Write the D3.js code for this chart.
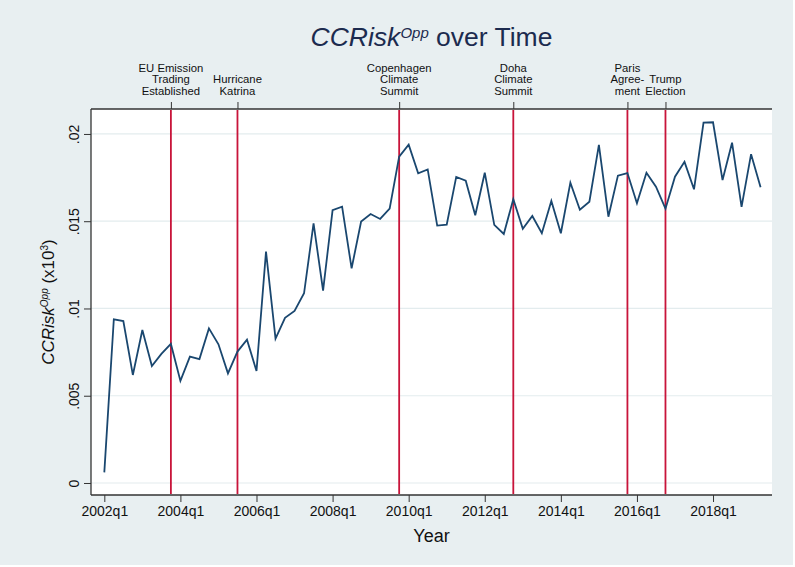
<!DOCTYPE html>
<html>
<head>
<meta charset="utf-8">
<script src="https://cdn.jsdelivr.net/npm/d3@7"></script>
<style>
  body { margin: 0; background: #fff; }
  text { font-family: "Liberation Sans", Arial, Helvetica, sans-serif; }
</style>
</head>
<body>
<div id="vis"></div>
<script>
// quarterly values, 2002q1 .. 2019q2
var startYear = 2002;
var values = [
    0.00061, 0.00938, 0.00928, 0.00619, 0.00877, 0.00670, 0.00740, 0.00797,
    0.00585, 0.00724, 0.00710, 0.00886, 0.00795, 0.00628, 0.00753, 0.00821,
    0.00642, 0.01326, 0.00827, 0.00946, 0.00986, 0.01087, 0.01488, 0.01102,
    0.01564, 0.01583, 0.01230, 0.01498, 0.01541, 0.01513, 0.01572, 0.01870,
    0.01939, 0.01775, 0.01797, 0.01475, 0.01480, 0.01754, 0.01732, 0.01534,
    0.01778, 0.01479, 0.01427, 0.01626, 0.01456, 0.01530, 0.01431, 0.01616,
    0.01431, 0.01721, 0.01566, 0.01612, 0.01937, 0.01526, 0.01761, 0.01776,
    0.01603, 0.01778, 0.01698, 0.01572, 0.01755, 0.01840, 0.01683, 0.02065,
    0.02067, 0.01736, 0.01950, 0.01582, 0.01884, 0.01694
];

// x ticks (quarter index from 2002q1)
var xTickQuarters = [0, 8, 16, 24, 32, 40, 48, 56, 64];
var xTickLabels = ["2002q1", "2004q1", "2006q1", "2008q1", "2010q1", "2012q1", "2014q1", "2016q1", "2018q1"];

// y ticks
var yTicks = [0, 0.005, 0.01, 0.015, 0.02];
var yTickLabels = ["0", ".005", ".01", ".015", ".02"];

// events (quarter index) and their labels, one entry per line
var eventQuarters = [7, 14, 31, 43, 55, 59];
var eventLabels = [
    ["EU Emission", "Trading", "Established"],
    ["Hurricane", "Katrina"],
    ["Copenhagen", "Climate", "Summit"],
    ["Doha", "Climate", "Summit"],
    ["Paris", "Agree-", "ment"],
    ["Trump", "Election"]
];

var width = 795, height = 567;
var plot = { left: 91, right: 772, top: 109, bottom: 495 };

var svg = d3.select("#vis").append("svg").attr("width", width).attr("height", height);

// graph background
svg.append("rect").attr("x", 0).attr("y", 0).attr("width", 793).attr("height", 565).attr("fill", "#e8eff1");
svg.append("rect")
    .attr("x", plot.left).attr("y", plot.top)
    .attr("width", plot.right - plot.left).attr("height", plot.bottom - plot.top)
    .attr("fill", "#ffffff");

/************ scales ************/
var xScale = d3.scaleLinear().domain([-1.4, 70.2]).range([plot.left, plot.right]);
var yScale = d3.scaleLinear().domain([-0.000688, 0.02143]).range([plot.bottom, plot.top]);

// grid lines
svg.append("g").selectAll("line").data(yTicks).enter().append("line")
    .attr("x1", plot.left).attr("x2", plot.right)
    .attr("y1", function(d) { return yScale(d); })
    .attr("y2", function(d) { return yScale(d); })
    .attr("stroke", "#e3ecee").attr("stroke-width", 1.2);

/************ axes ************/
var xAxis = d3.axisBottom(xScale).tickValues(xTickQuarters).tickSize(7).tickPadding(4)
    .tickFormat(function(d, i) { return xTickLabels[i]; });
var gx = svg.append("g").attr("transform", "translate(0," + plot.bottom + ")").call(xAxis);
gx.select(".domain").remove();
gx.append("line").attr("x1", plot.left).attr("x2", plot.right).attr("stroke", "#333").attr("stroke-width", 1.3);
gx.selectAll(".tick line").attr("stroke", "#333");
gx.selectAll("text").attr("fill", "#111").style("font-size", "14px")
    .style("font-family", "'Liberation Sans', Arial, sans-serif");

var yAxis = d3.axisLeft(yScale).tickValues(yTicks).tickSize(7).tickPadding(0)
    .tickFormat(function(d, i) { return yTickLabels[i]; });
var gy = svg.append("g").attr("transform", "translate(" + plot.left + ",0)").call(yAxis);
gy.select(".domain").remove();
gy.append("line").attr("y1", plot.top).attr("y2", plot.bottom).attr("stroke", "#333").attr("stroke-width", 1.3);
gy.selectAll(".tick line").attr("stroke", "#333");
gy.selectAll(".tick text")
    .attr("x", 0).attr("dy", null).attr("y", 0)
    .attr("text-anchor", "middle")
    .attr("transform", "translate(-12,0) rotate(-90)")
    .attr("fill", "#111").style("font-size", "14px")
    .style("font-family", "'Liberation Sans', Arial, sans-serif");

// top axis with event ticks
var xTop = d3.axisTop(xScale).tickValues(eventQuarters).tickSize(7).tickFormat("");
var gt = svg.append("g").attr("transform", "translate(0," + plot.top + ")").call(xTop);
gt.select(".domain").remove();
gt.append("line").attr("x1", plot.left).attr("x2", plot.right).attr("stroke", "#333").attr("stroke-width", 1.3);
gt.selectAll(".tick line").attr("stroke", "#333");

/************ event lines ************/
svg.append("g").selectAll("line").data(eventQuarters).enter().append("line")
    .attr("x1", function(d) { return xScale(d); })
    .attr("x2", function(d) { return xScale(d); })
    .attr("y1", plot.top + 1).attr("y2", plot.bottom - 1)
    .attr("stroke", "#c8143a").attr("stroke-width", 1.8);

// event labels, bottom aligned above the top axis
var lineGap = 11.6;
eventQuarters.forEach(function(q, i) {
    var lines = eventLabels[i];
    var t = svg.append("text")
        .attr("text-anchor", "middle")
        .attr("fill", "#111")
        .style("font-size", "11.3px");
    lines.forEach(function(s, j) {
        t.append("tspan")
            .attr("x", xScale(q))
            .attr("y", 95 - (lines.length - 1 - j) * lineGap)
            .text(s);
    });
});

/************ series ************/
var line = d3.line()
    .x(function(d, i) { return xScale(i); })
    .y(function(d) { return yScale(d); });

svg.append("path").datum(values)
    .attr("d", line)
    .attr("fill", "none")
    .attr("stroke", "#1a476f")
    .attr("stroke-width", 1.8)
    .attr("stroke-linejoin", "miter");

/************ titles ************/
var title = svg.append("text")
    .attr("x", (plot.left + plot.right) / 2).attr("y", 46)
    .attr("text-anchor", "middle").attr("fill", "#1c2b4f")
    .style("font-size", "26.5px");
title.append("tspan").style("font-style", "italic").text("CCRisk");
title.append("tspan").style("font-style", "italic").style("font-size", "15px").attr("dy", -8).text("Opp");
title.append("tspan").attr("dy", 8).text(" over Time");

svg.append("text")
    .attr("x", (plot.left + plot.right) / 2).attr("y", 542)
    .attr("text-anchor", "middle").attr("fill", "#111")
    .style("font-size", "18px")
    .text("Year");

var ytitle = svg.append("text")
    .attr("transform", "translate(54," + (plot.top + plot.bottom) / 2 + ") rotate(-90)")
    .attr("text-anchor", "middle").attr("fill", "#111")
    .style("font-size", "17px");
ytitle.append("tspan").style("font-style", "italic").text("CCRisk");
ytitle.append("tspan").style("font-style", "italic").style("font-size", "10px").attr("dy", -6).text("Opp");
ytitle.append("tspan").attr("dy", 6).text(" (x10");
ytitle.append("tspan").style("font-size", "10px").attr("dy", -6).text("3");
ytitle.append("tspan").attr("dy", 6).text(")");
</script>
</body>
</html>
